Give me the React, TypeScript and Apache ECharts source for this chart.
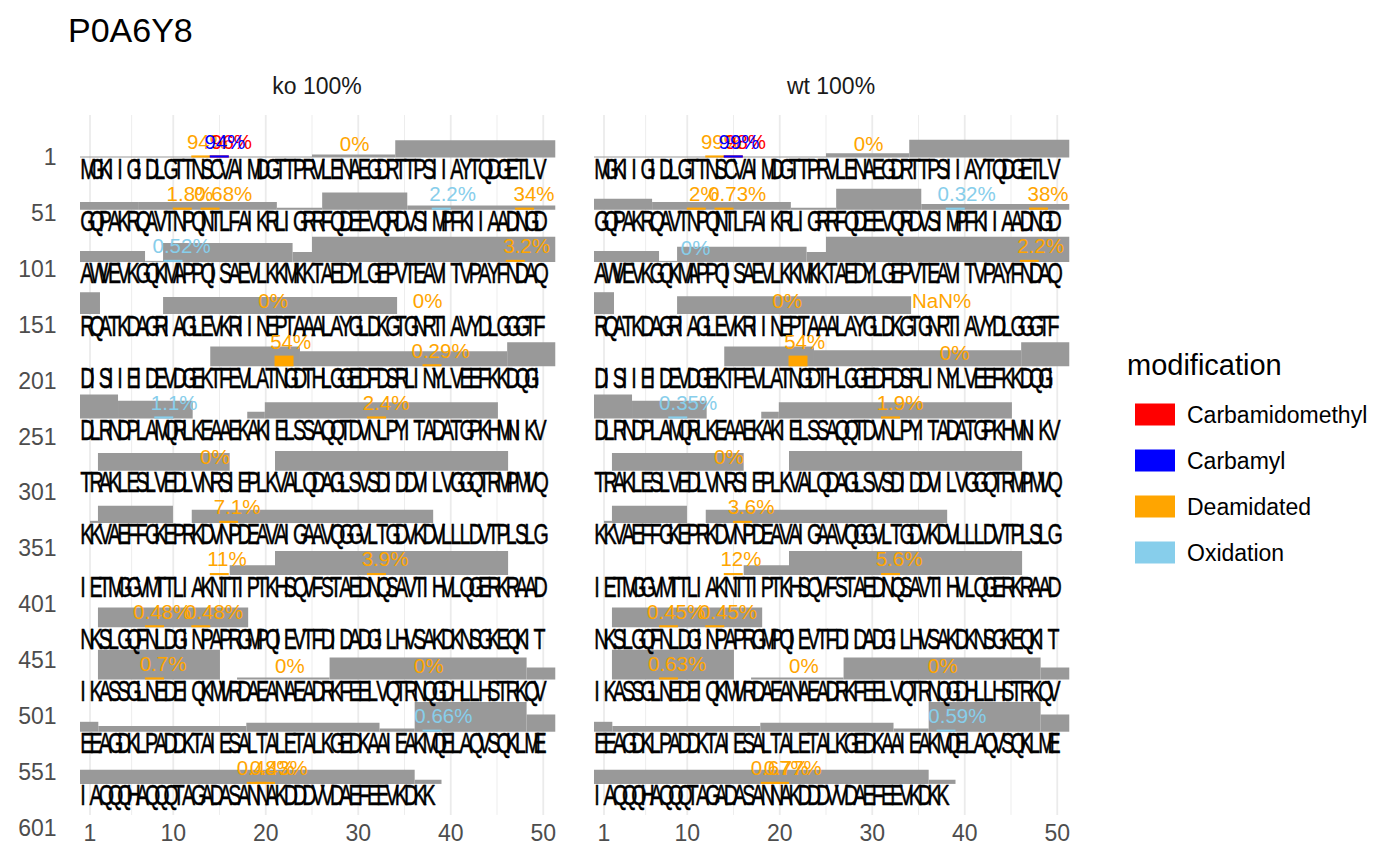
import React, { useEffect, useRef } from "react";
import * as echarts from "echarts";

// ---------------- data ----------------
const chartTitle = "P0A6Y8";
const facetLabels = ["ko 100%", "wt 100%"];
const legendTitle = "modification";
const modTypes = ["Carbamidomethyl", "Carbamyl", "Deamidated", "Oxidation"];
const modColors = ["#FF0000", "#0000FF", "#FFA500", "#87CEEB"];

const sequenceRows = [
  "MGKIIGIDLGTTNSCVAIMDGTTPRVLENAEGDRTTPSIIAYTQDGETLV",
  "GQPAKRQAVTNPQNTLFAIKRLIGRRFQDEEVQRDVSIMPFKIIAADNGD",
  "AWVEVKGQKMAPPQISAEVLKKMKKTAEDYLGEPVTEAVITVPAYFNDAQ",
  "RQATKDAGRIAGLEVKRIINEPTAAALAYGLDKGTGNRTIAVYDLGGGTF",
  "DISIIEIDEVDGEKTFEVLATNGDTHLGGEDFDSRLINYLVEEFKKDQGI",
  "DLRNDPLAMQRLKEAAEKAKIELSSAQQTDVNLPYITADATGPKHMNIKV",
  "TRAKLESLVEDLVNRSIEPLKVALQDAGLSVSDIDDVILVGGQTRMPMVQ",
  "KKVAEFFGKEPRKDVNPDEAVAIGAAVQGGVLTGDVKDVLLLDVTPLSLG",
  "IETMGGVMTTLIAKNTTIPTKHSQVFSTAEDNQSAVTIHVLQGERKRAAD",
  "NKSLGQFNLDGINPAPRGMPQIEVTFDIDADGILHVSAKDKNSGKEQKIT",
  "IKASSGLNEDEIQKMVRDAEANAEADRKFEELVQTRNQGDHLLHSTRKQV",
  "EEAGDKLPADDKTAIESALTALETALKGEDKAAIEAKMQELAQVSQKLME",
  "IAQQQHAQQQTAGADASANNAKDDDVVDAEFEEVKDKK",
];

const rowStarts = [1, 51, 101, 151, 201, 251, 301, 351, 401, 451, 501, 551, 601];
// y positions of the row tick labels (in letter-row units)
const rowTickY = [-0.23, 0.841, 1.912, 2.983, 4.054, 5.125, 6.195, 7.266, 8.337, 9.408, 10.479, 11.55, 12.621];
const xTickValues = [1, 10, 20, 30, 40, 50];
const gridMajorX = [1, 10, 20, 30, 40, 50];
const gridMinorX = [5.5, 15, 25, 35, 45];

// peptide coverage: [row, start, end, ko height, wt height]
const coverage: number[][] = [
  [0, -0.08, 25.0, 0.02, 0.02],
  [0, 25.0, 34.0, 0.06, 0.08],
  [0, 34.0, 51.3, 0.33, 0.34],
  [1, -0.08, 6.2, 0.15, 0.21],
  [1, 6.2, 21.2, 0.15, 0.15],
  [1, 21.2, 26.1, 0.04, 0.04],
  [1, 26.1, 35.3, 0.33, 0.4],
  [1, 35.3, 51.3, 0.08, 0.11],
  [2, -0.08, 6.95, 0.21, 0.21],
  [2, 6.95, 8.9, 0.02, 0.02],
  [2, 8.9, 22.9, 0.36, 0.29],
  [2, 22.9, 25.0, 0.19, 0.19],
  [2, 25.0, 51.3, 0.48, 0.48],
  [3, -0.08, 2.08, 0.42, 0.42],
  [3, 8.9, 34.2, 0.33, 0.34],
  [4, 14.0, 23.7, 0.38, 0.38],
  [4, 23.7, 46.1, 0.29, 0.31],
  [4, 46.1, 51.3, 0.46, 0.46],
  [5, -0.08, 4.03, 0.46, 0.46],
  [5, 4.03, 12.1, 0.34, 0.34],
  [5, 18.0, 19.9, 0.13, 0.13],
  [5, 19.9, 45.1, 0.31, 0.31],
  [6, 1.86, 16.1, 0.34, 0.34],
  [6, 21.0, 46.2, 0.38, 0.38],
  [7, 1.0, 1.86, 0.04, 0.04],
  [7, 1.86, 9.97, 0.33, 0.33],
  [7, 12.0, 38.1, 0.25, 0.25],
  [8, 16.1, 21.0, 0.19, 0.19],
  [8, 21.0, 46.2, 0.46, 0.46],
  [9, 1.86, 18.1, 0.38, 0.38],
  [10, 1.86, 15.05, 0.57, 0.57],
  [10, 16.9, 26.9, 0.04, 0.04],
  [10, 26.9, 48.2, 0.42, 0.42],
  [10, 48.2, 51.3, 0.23, 0.23],
  [11, -0.08, 1.9, 0.19, 0.19],
  [11, 1.9, 17.9, 0.11, 0.11],
  [11, 17.9, 32.3, 0.17, 0.17],
  [11, 32.3, 36.1, 0.06, 0.06],
  [11, 36.1, 48.2, 0.57, 0.57],
  [11, 48.2, 51.3, 0.33, 0.33],
  [12, -0.08, 36.1, 0.27, 0.27],
  [12, 36.1, 39.0, 0.08, 0.08],
];

// modification sites: [row, residue in row, type index, label x, ko %, wt %]
const modSites: (number | string)[][] = [
  [0, 13, 2, 13.7, "94%", "99%"],
  [0, 29, 2, 29.6, "0%", "0%"],
  [0, 15, 0, 16.3, "96%", "98%"],
  [0, 15, 1, 15.6, "94%", "99%"],
  [1, 11, 2, 11.8, "1.8%", "2%"],
  [1, 14, 2, 15.4, "0.68%", "0.73%"],
  [1, 39, 3, 40.2, "2.2%", "0.32%"],
  [1, 48, 2, 49.0, "34%", "38%"],
  [2, 10, 3, 10.9, "0.52%", "0%"],
  [2, 47, 2, 48.2, "3.2%", "2.2%"],
  [3, 20, 2, 20.8, "0%", "0%"],
  [3, 37, 2, 37.5, "0%", "NaN%"],
  [4, 22, 2, 22.7, "54%", "54%"],
  [4, 38, 2, 38.9, "0.29%", "0%"],
  [5, 9, 3, 10.1, "1.1%", "0.35%"],
  [5, 32, 2, 33.0, "2.4%", "1.9%"],
  [6, 14, 2, 14.5, "0%", "0%"],
  [7, 16, 2, 16.9, "7.1%", "3.6%"],
  [8, 15, 2, 15.8, "11%", "12%"],
  [8, 32, 2, 32.9, "3.9%", "5.6%"],
  [9, 8, 2, 8.8, "0.48%", "0.45%"],
  [9, 13, 2, 14.4, "0.48%", "0.45%"],
  [10, 8, 2, 8.9, "0.7%", "0.63%"],
  [10, 22, 2, 22.6, "0%", "0%"],
  [10, 37, 2, 37.6, "0%", "0%"],
  [11, 38, 3, 39.2, "0.66%", "0.59%"],
  [12, 19, 2, 20.0, "0.48%", "0.67%"],
  [12, 20, 2, 21.4, "0.43%", "0.77%"],
];

// ---------------- layout / style constants ----------------
const FONT = "'Liberation Sans', Arial, Helvetica, sans-serif";
const Y_MIN = -1.0345;
const Y_MAX = 12.9502;
const GRID_TOP_V = -1.0345;
const GRID_BOTTOM_V = 12.375;
const BASE_OFFSET = 0.22;
const LABEL_GAP = 0.27;
const MARKER_MIN = 0.04;
const BAR_COLOR = "#999999";

function barHeightAt(panel: number, row: number, res: number) {
  let h = 0;
  for (const s of coverage) {
    if (s[0] === row && res >= s[1] && res <= s[2]) h = Math.max(h, s[3 + panel]);
  }
  return h;
}

function buildOption() {
  const grids = [0, 1].map((i) => ({ left: 71.5 + i * 514, top: 115, width: 499.5, height: 730 }));
  const xAxes = [0, 1].map((i) => ({
    type: "value",
    gridIndex: i,
    min: -1,
    max: 53,
    offset: -24,
    axisLine: { show: false },
    axisTick: { show: false },
    splitLine: { show: false },
    axisLabel: {
      customValues: xTickValues,
      margin: 0,
      color: "#4D4D4D",
      fontSize: 23,
      fontFamily: FONT,
    },
  }));
  const yAxes = [0, 1].map((i) => ({
    type: "value",
    gridIndex: i,
    inverse: true,
    min: Y_MIN,
    max: Y_MAX,
    axisLine: { show: false },
    axisTick: { show: false },
    splitLine: { show: false },
    axisLabel:
      i === 0
        ? {
            customValues: rowTickY,
            margin: 15,
            color: "#4D4D4D",
            fontSize: 23,
            fontFamily: FONT,
            formatter: (v: number) => {
              let best = 0;
              rowTickY.forEach((t, k) => {
                if (Math.abs(t - v) < Math.abs(rowTickY[best] - v)) best = k;
              });
              return String(rowStarts[best]);
            },
          }
        : { show: false },
  }));

  const series: any[] = [];
  for (let p = 0; p < 2; p++) {
    // grid lines
    const gl = [...gridMajorX.map((x) => [x, 1]), ...gridMinorX.map((x) => [x, 0])];
    series.push({
      type: "custom",
      xAxisIndex: p,
      yAxisIndex: p,
      silent: true,
      data: gl,
      encode: { x: 0 },
      renderItem: (params: any, api: any) => {
        const x = api.value(0);
        const major = api.value(1) === 1;
        const a = api.coord([x, GRID_TOP_V]);
        const b = api.coord([x, GRID_BOTTOM_V]);
        return {
          type: "line",
          shape: { x1: a[0], y1: a[1], x2: b[0], y2: b[1] },
          style: { stroke: "#EBEBEB", lineWidth: major ? 1.8 : 0.9 },
        };
      },
    });
    // coverage bars
    const bars = coverage.map((s) => [s[1], s[2], s[0] - BASE_OFFSET, s[0] - BASE_OFFSET - s[3 + p]]);
    series.push({
      type: "custom",
      xAxisIndex: p,
      yAxisIndex: p,
      silent: true,
      data: bars,
      encode: { x: [0, 1], y: [2, 3] },
      renderItem: (params: any, api: any) => {
        const a = api.coord([api.value(0), api.value(2)]);
        const b = api.coord([api.value(1), api.value(3)]);
        return {
          type: "rect",
          shape: { x: a[0], y: Math.min(a[1], b[1]), width: b[0] - a[0], height: Math.abs(b[1] - a[1]) },
          style: { fill: BAR_COLOR },
        };
      },
    });
    // sequence letters
    const letters: string[] = [];
    const letterData: number[][] = [];
    sequenceRows.forEach((rowStr, r) => {
      for (let i = 0; i < rowStr.length; i++) {
        letters.push(rowStr[i]);
        letterData.push([i + 1, r]);
      }
    });
    series.push({
      type: "custom",
      xAxisIndex: p,
      yAxisIndex: p,
      silent: true,
      data: letterData,
      encode: { x: 0, y: 1 },
      renderItem: (params: any, api: any) => {
        const c = api.coord([api.value(0) - 1.05, api.value(1)]);
        return {
          type: "text",
          x: c[0],
          y: c[1],
          scaleX: 0.68,
          scaleY: 1,
          style: {
            text: letters[params.dataIndex],
            fill: "#000000",
            stroke: "#000000",
            lineWidth: 0.5,
            fontSize: 29,
            fontFamily: FONT,
            align: "left",
            verticalAlign: "middle",
          },
        };
      },
    });
    // modifications (markers + percent labels)
    for (const t of [2, 3, 0, 1]) {
      const items = modSites
        .filter((m) => m[2] === t)
        .map((m) => {
          const row = m[0] as number;
          const res = m[1] as number;
          const text = m[4 + p] as string;
          const pct = parseFloat(text);
          const h = barHeightAt(p, row, res);
          const mh = isFinite(pct) && pct > 0 ? Math.max((h * pct) / 100, MARKER_MIN) : 0;
          const base = row - BASE_OFFSET;
          return { row, res, text, mh, base, lx: m[3] as number };
        });
      const color = modColors[t];
      series.push({
        type: "custom",
        name: modTypes[t],
        xAxisIndex: p,
        yAxisIndex: p,
        silent: true,
        itemStyle: { color },
        data: items.map((it) => [it.lx, it.base - it.mh - LABEL_GAP]),
        encode: { x: 0, y: 1 },
        renderItem: (params: any, api: any) => {
          const it = items[params.dataIndex];
          const children: any[] = [];
          if (it.mh > 0) {
            const a = api.coord([it.res - 1.05, it.base]);
            const b = api.coord([it.res + 1.0, it.base - it.mh]);
            children.push({
              type: "rect",
              shape: { x: a[0], y: b[1], width: b[0] - a[0], height: a[1] - b[1] },
              style: { fill: color },
            });
          }
          const c = api.coord([api.value(0), api.value(1)]);
          children.push({
            type: "text",
            x: c[0],
            y: c[1],
            style: {
              text: it.text,
              fill: color,
              fontSize: 20.5,
              fontFamily: FONT,
              align: "center",
              verticalAlign: "middle",
            },
          });
          return { type: "group", children };
        },
      });
    }
  }

  return {
    animation: false,
    backgroundColor: "#FFFFFF",
    color: modColors,
    grid: grids,
    xAxis: xAxes,
    yAxis: yAxes,
    legend: {
      data: modTypes.map((n, i) => ({ name: n, itemStyle: { color: modColors[i] } })),
      orient: "vertical",
      left: 1130,
      top: 398,
      itemWidth: 40,
      itemHeight: 22,
      itemGap: 23,
      icon: "rect",
      selectedMode: false,
      textStyle: { fontSize: 23, fontFamily: FONT, color: "#000000", lineHeight: 22, padding: [0, 0, 0, 7] },
    },
    graphic: [
      {
        type: "text",
        x: 68,
        y: 30,
        style: { text: chartTitle, fontSize: 34, fontFamily: FONT, fill: "#000000", align: "left", verticalAlign: "middle" },
      },
      ...facetLabels.map((f, i) => ({
        type: "text",
        x: 317 + i * 514,
        y: 86,
        style: { text: f, fontSize: 23, fontFamily: FONT, fill: "#1A1A1A", align: "center", verticalAlign: "middle" },
      })),
      {
        type: "text",
        x: 1127,
        y: 365,
        style: { text: legendTitle, fontSize: 29, fontFamily: FONT, fill: "#000000", align: "left", verticalAlign: "middle" },
      },
    ],
    series,
  };
}

export default function App() {
  const ref = useRef<HTMLDivElement>(null);
  useEffect(() => {
    if (!ref.current) return;
    const chart = echarts.init(ref.current, undefined, { renderer: "svg" });
    chart.setOption(buildOption() as any);
    return () => chart.dispose();
  }, []);
  return (
    <div
      ref={ref}
      style={{ position: "fixed", left: 0, top: 0, width: 1400, height: 866, background: "#FFFFFF" }}
    />
  );
}
